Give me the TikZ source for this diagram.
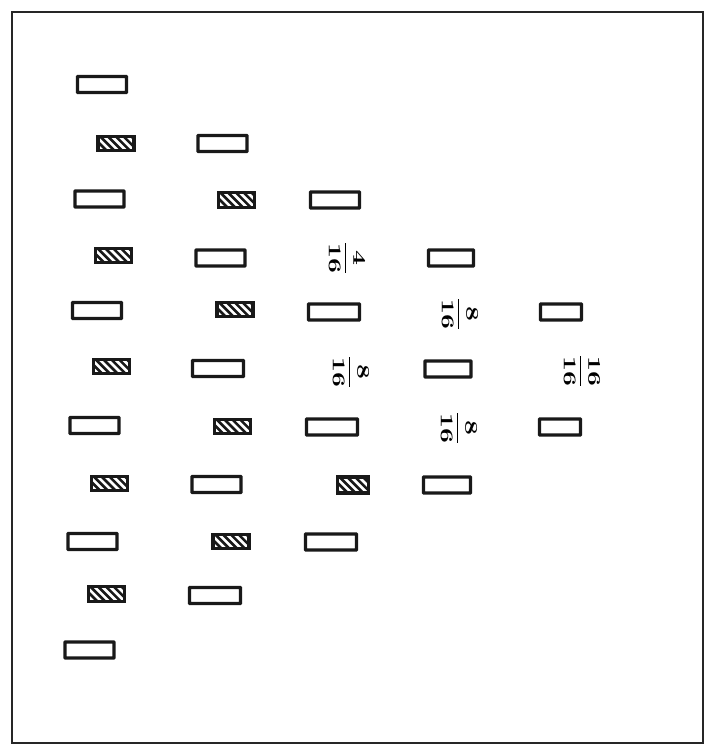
\documentclass[tikz,border=0pt]{standalone}
\usepackage{graphicx}
\newcommand{\rfrac}[2]{\scalebox{2.6}[1.8]{$\displaystyle\frac{\mathbf{#1}}{\mathbf{#2}}$}}
\begin{document}
\begin{tikzpicture}[x=1pt,y=-1pt,
  openbox/.style={draw=black!90,line width=3.2pt,minimum width=49pt,minimum height=16pt,inner sep=0pt,rounded corners=0.5pt},
  hatchbox/.style={draw=black!90,line width=3.2pt,minimum width=36pt,minimum height=14.5pt,inner sep=0pt,
    path picture={\foreach \k in {-4,...,7}{\draw[line width=2.6pt,black!90] ([xshift=\k*7.8pt,yshift=2pt]path picture bounding box.north west) -- ++(22pt,-22pt);}}},
  fracl/.style={rotate=-90,inner sep=0pt}]
\useasboundingbox (0,0) rectangle (715,753);
\draw[line width=2pt,black!85] (12,12) rectangle (703,743);
% row 1
\node[openbox] (o11) at (102,84.5) {};
% row 2
\node[hatchbox] (h21) at (116,143.5) {};
\node[openbox] (o22) at (222.5,143.5) {};
% row 3
\node[openbox] (o31) at (99.5,199) {};
\node[hatchbox] (h32) at (236.5,200) {};
\node[openbox] (o33) at (335,200) {};
% row 4
\node[hatchbox] (h41) at (113.5,255.5) {};
\node[openbox] (o42) at (220.5,258) {};
\node[fracl] (f43) at (347,258) {\rfrac{4}{16}};
\node[openbox,minimum width=45pt] (o44) at (451,258) {};
% row 5
\node[openbox] (o51) at (97,310.5) {};
\node[hatchbox] (h52) at (235,309.5) {};
\node[openbox,minimum width=51pt] (o53) at (334,312) {};
\node[fracl] (f54) at (460,314) {\rfrac{8}{16}};
\node[openbox,minimum width=41pt] (o55) at (561,312) {};
% row 6
\node[hatchbox] (h61) at (111.5,366.5) {};
\node[openbox,minimum width=51pt] (o62) at (218,368.5) {};
\node[fracl] (f63) at (351,372) {\rfrac{8}{16}};
\node[openbox,minimum width=46pt] (o64) at (448,369) {};
\node[fracl] (f65) at (582,371) {\rfrac{16}{16}};
% row 7
\node[openbox] (o71) at (94.5,425.5) {};
\node[hatchbox] (h72) at (232.5,426.5) {};
\node[openbox,minimum width=51pt] (o73) at (332,427) {};
\node[fracl] (f74) at (459,428) {\rfrac{8}{16}};
\node[openbox,minimum width=41pt] (o75) at (560,427) {};
% row 8
\node[hatchbox] (h81) at (109.5,483.5) {};
\node[openbox] (o82) at (216.5,484.5) {};
\node[hatchbox,minimum width=31pt,minimum height=16pt] (h83) at (353,485) {};
\node[openbox,minimum width=47pt] (o84) at (447,485) {};
% row 9
\node[openbox] (o91) at (92.5,541.5) {};
\node[hatchbox] (h92) at (231,541.5) {};
\node[openbox,minimum width=51pt] (o93) at (331,542) {};
% row 10
\node[hatchbox] (h101) at (106.5,594) {};
\node[openbox,minimum width=51pt] (o102) at (215,595.5) {};
% row 11
\node[openbox] (o111) at (89.5,650) {};
\end{tikzpicture}
\end{document}
